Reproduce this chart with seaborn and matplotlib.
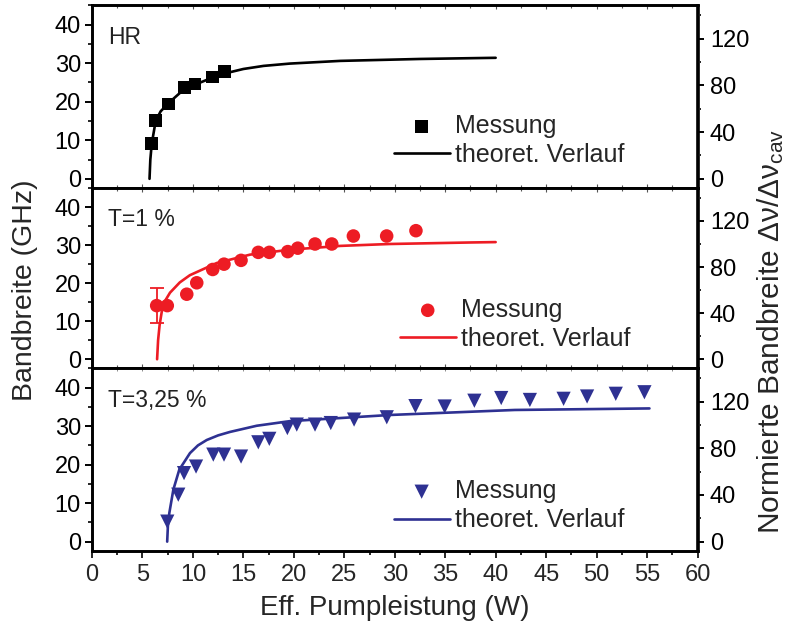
import matplotlib
matplotlib.use("Agg")
import matplotlib.pyplot as plt
import seaborn as sns
from matplotlib.ticker import MultipleLocator

# ---------------- data ----------------
# HR panel
hr_p = [5.92, 6.31, 7.56, 9.15, 10.2, 11.96, 13.1]
hr_b = [9.1, 15.2, 19.4, 23.7, 24.6, 26.4, 27.8]
hr_theo_p = [5.7, 5.78, 5.92, 6.31, 6.8, 7.56, 9.15, 11.96, 13.1, 15.0, 17.0, 19.6, 24.6, 32.5, 40.0]
hr_theo_b = [0.0, 5.0, 9.1, 15.0, 17.5, 19.6, 23.3, 26.3, 27.3, 28.5, 29.3, 29.9, 30.6, 31.1, 31.4]

# T = 1 % panel
t1_p = [6.41, 7.46, 9.39, 10.38, 11.96, 13.08, 14.77, 16.48, 17.57, 19.40, 20.39, 22.10, 23.76, 25.9, 29.2, 32.1]
t1_b = [14.1, 14.1, 17.1, 20.1, 23.6, 25.0, 26.0, 28.1, 28.1, 28.3, 29.2, 30.3, 30.3, 32.4, 32.4, 33.8]
t1_err_p = [6.41]
t1_err_b = [14.1]
t1_err = [4.6]
t1_theo_p = [6.45, 6.55, 6.7, 6.9, 7.07, 7.73, 8.7, 9.7, 12.36, 15.66, 19.6, 24.6, 29.5, 37.5, 40.0]
t1_theo_b = [0.0, 5.0, 9.0, 12.3, 14.6, 17.5, 20.2, 22.1, 25.3, 27.5, 28.8, 29.8, 30.3, 30.7, 30.8]

# T = 3,25 % panel
t3_p = [7.46, 8.55, 9.12, 10.31, 12.02, 13.08, 14.77, 16.48, 17.57, 19.36, 20.29, 22.10,
        23.66, 25.97, 29.21, 32.05, 34.95, 37.89, 40.55, 43.39, 46.73, 49.06, 51.90, 54.74]
t3_b = [5.2, 12.2, 17.8, 19.5, 22.6, 22.6, 22.1, 25.8, 26.7, 29.5, 30.4, 30.4,
        30.8, 31.7, 32.3, 35.2, 35.1, 36.6, 37.3, 36.8, 37.1, 37.7, 38.4, 38.8]
t3_theo_p = [7.45, 7.52, 7.66, 8.06, 8.65, 9.71, 10.5, 11.37, 12.5, 13.68, 16.32, 19.62, 24.58, 29.53, 41.89, 55.24]
t3_theo_b = [0.0, 4.0, 7.4, 13.5, 18.7, 23.0, 25.0, 26.4, 27.6, 28.5, 30.1, 31.3, 32.1, 32.9, 34.2, 34.6]

panel_labels = ["HR", "T=1 %", "T=3,25 %"]
leg_meas = "Messung"
leg_theo = "theoret. Verlauf"
xlabel = "Eff. Pumpleistung (W)"
ylabel_left = "Bandbreite (GHz)"
ylabel_right = "Normierte Bandbreite Δν/Δν$_{\\mathrm{cav}}$"
norm_factor = 3.3  # GHz -> normierte Einheiten (right axis)

# ---------------- styling ----------------
sns.set_theme(style="ticks")
plt.rcParams['font.family'] = ['Liberation Sans', 'DejaVu Sans']
plt.rcParams['mathtext.fontset'] = 'custom'
plt.rcParams['mathtext.rm'] = 'Liberation Sans'
plt.rcParams['mathtext.it'] = 'Liberation Sans:italic'

BLACK = "#000000"
RED = "#ED1C24"
BLUE = "#2E3192"

fig = plt.figure(figsize=(7.97, 6.39), dpi=100)
W, H = 797, 639
left_px, right_px = 92, 697.5
tops = [5, 187.7, 368.0]
bots = [187.7, 368.0, 550.5]

ylim = (-2.3, 45.1)

panels = [
    dict(p=hr_p, b=hr_b, tp=hr_theo_p, tb=hr_theo_b, color=BLACK, marker='s', s=85,
         leg=(0.498, 0.115)),
    dict(p=t1_p, b=t1_b, tp=t1_theo_p, tb=t1_theo_b, color=RED, marker='o', s=95,
         leg=(0.508, 0.095)),
    dict(p=t3_p, b=t3_b, tp=t3_theo_p, tb=t3_theo_b, color=BLUE, marker='v', s=105,
         leg=(0.498, 0.10)),
]

spine_lw = 1.9
TICK_FS = 17
for i, pan in enumerate(panels):
    rect = [left_px / W, 1 - bots[i] / H, (right_px - left_px) / W, (bots[i] - tops[i]) / H]
    ax = fig.add_axes(rect)
    sns.lineplot(x=pan['tp'], y=pan['tb'], ax=ax, color=pan['color'], lw=1.9,
                 sort=False, estimator=None, label=leg_theo, zorder=2)
    if i == 1:
        ax.errorbar(t1_err_p, t1_err_b, yerr=t1_err, fmt='none', ecolor=RED,
                    elinewidth=1.3, capsize=5, capthick=1.3, zorder=2)
    sns.scatterplot(x=pan['p'], y=pan['b'], ax=ax, color=pan['color'], marker=pan['marker'],
                    s=pan['s'], edgecolor='none', linewidth=0, label=leg_meas, zorder=3)

    ax.set_xlim(0, 60)
    ax.set_ylim(*ylim)
    ax.xaxis.set_major_locator(MultipleLocator(5))
    ax.xaxis.set_minor_locator(MultipleLocator(2.5))
    ax.yaxis.set_major_locator(MultipleLocator(10))
    ax.yaxis.set_minor_locator(MultipleLocator(5))
    for sp in ax.spines.values():
        sp.set_visible(True)
        sp.set_linewidth(spine_lw)
        sp.set_color('black')
    ax.tick_params(axis='y', which='major', direction='out', length=5, width=1.4,
                   labelsize=TICK_FS, pad=3, colors='black', left=True, right=False)
    ax.tick_params(axis='y', which='minor', direction='out', length=3, width=1.4,
                   left=True, right=False)
    if i == 2:
        ax.tick_params(axis='x', which='major', direction='out', length=5, width=1.4,
                       labelsize=TICK_FS, pad=5, bottom=True, top=False)
        ax.tick_params(axis='x', which='minor', direction='out', length=3, width=1.4,
                       bottom=True, top=False)
        ax.set_xlabel(xlabel, fontsize=20, labelpad=6)
        sec = ax.secondary_xaxis('top')
        sec.xaxis.set_major_locator(MultipleLocator(5))
        sec.xaxis.set_minor_locator(MultipleLocator(2.5))
        sec.tick_params(which='both', direction='in', length=2.5, width=0.6,
                        colors='#777777', labeltop=False)
        sec.spines['top'].set_visible(False)
    else:
        ax.tick_params(axis='x', which='major', direction='in', length=3, width=0.8,
                       colors='#555555', labelbottom=False, bottom=True,
                       top=True, labeltop=False)
        ax.tick_params(axis='x', which='minor', direction='in', length=2, width=0.8,
                       colors='#555555', bottom=True, top=True)
        ax.set_xlabel("")
    ax.set_ylabel("")
    ax.set_yticks([0, 10, 20, 30, 40])

    ax.text(0.027, 0.885, panel_labels[i], transform=ax.transAxes, fontsize=16.5,
            color='#222222', ha='left', va='top')

    handles, labels = ax.get_legend_handles_labels()
    order = [labels.index(leg_meas), labels.index(leg_theo)]
    ax.legend([handles[k] for k in order], [labels[k] for k in order],
              loc='lower left', bbox_to_anchor=pan['leg'], frameon=False,
              fontsize=18, handlelength=2.25, handletextpad=0.2, labelspacing=0.2,
              borderaxespad=0, borderpad=0)

    axr = ax.twinx()
    axr.set_ylim(ylim[0] * norm_factor, ylim[1] * norm_factor)
    axr.set_yticks([0, 40, 80, 120])
    axr.yaxis.set_minor_locator(MultipleLocator(20))
    axr.tick_params(axis='y', which='major', direction='out', length=5, width=1.4,
                    labelsize=TICK_FS, pad=4, colors='black')
    axr.tick_params(axis='y', which='minor', direction='out', length=3, width=1.4)
    for sp in axr.spines.values():
        sp.set_linewidth(spine_lw)
        sp.set_color('black')
    axr.grid(False)
    ax.grid(False)

fig.text(0.031, 0.546, ylabel_left, rotation=90, ha='center', va='center', fontsize=20.5)
fig.text(0.967, 0.481, ylabel_right, rotation=90, ha='center', va='center', fontsize=21.5)

fig.savefig("out.png", dpi=100)
